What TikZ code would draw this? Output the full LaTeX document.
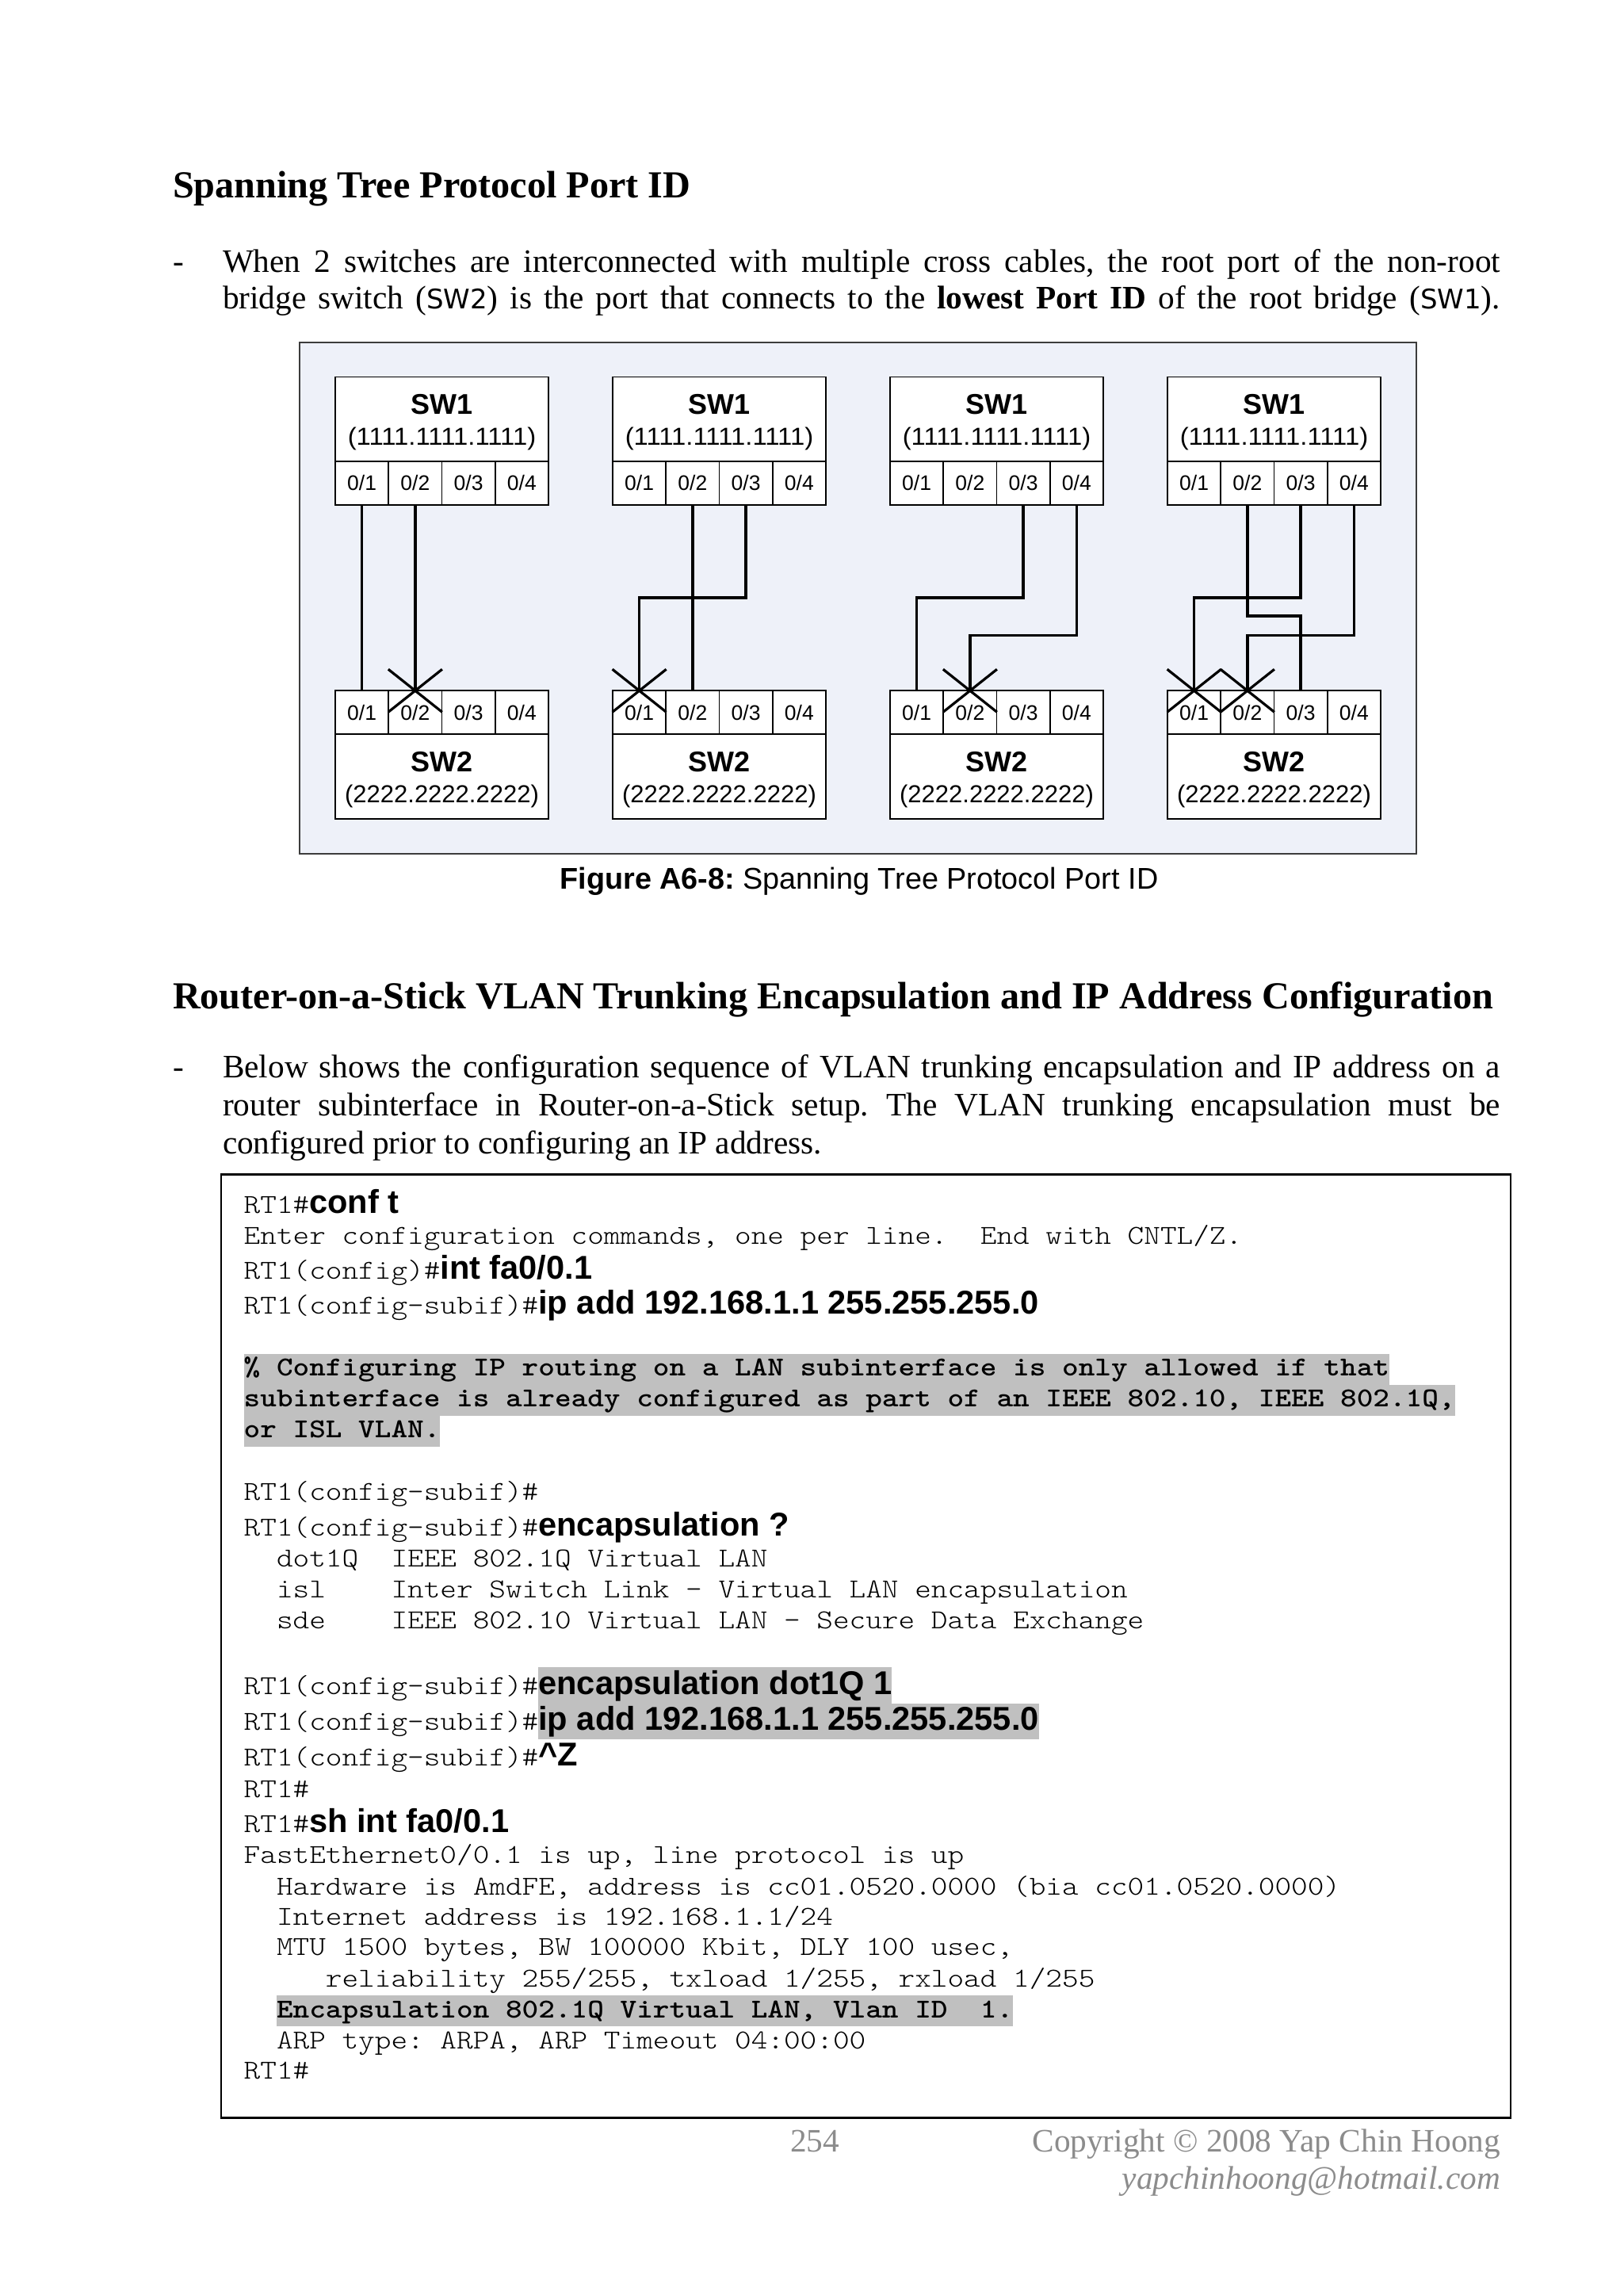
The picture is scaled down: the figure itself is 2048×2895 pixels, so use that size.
\documentclass[tikz,border=0pt]{standalone}
\usepackage{fontspec}
\setmainfont{Liberation Serif}
\newfontfamily\arialf{Liberation Sans}
\newfontfamily\courf[FakeStretch=1.14]{Latin Modern Mono Light}
\newfontfamily\dejaf{DejaVu Sans}
\definecolor{framebg}{RGB}{238,241,249}
\definecolor{framedraw}{RGB}{60,60,60}
\definecolor{hlgray}{RGB}{192,192,192}
\definecolor{footgray}{RGB}{140,140,140}
\newcommand\fsz[2]{\fontsize{#1pt}{#2pt}\selectfont}
\newcommand\mymono{\courf\fsz{34.5}{39}}
\newcommand\mycmd[1]{{\arialf\bfseries\fsz{41.6}{45}#1}}
\newcommand\myhl[3]{{\setlength\fboxsep{0pt}\colorbox{hlgray}{\rule[-#2pt]{0pt}{#3pt}#1}}}
\newcommand\mypr{RT1(config-subif)\#}
\newcommand\swname[1]{{\dejaf\fsz{34}{40}#1}}
\begin{document}
\frenchspacing
\begin{tikzpicture}[x=1pt,y=-1pt,
  every node/.style={inner sep=0pt, outer sep=0pt},
  bodyline/.style={anchor=base west, font=\fsz{41.3}{47.5}},
  headline/.style={anchor=base west, font=\bfseries\fsz{48.2}{55}},
  codeline/.style={anchor=base west, font=\mymono},
  swbox/.style={draw, fill=white, line width=1.8pt, minimum width=269pt, minimum height=106.5pt},
  portcell/.style={draw, fill=white, line width=1.8pt, minimum width=67.25pt, minimum height=55pt,
     text height=18.6pt, text depth=0pt, font=\arialf\fsz{26.5}{30}},
  swtitle/.style={anchor=base, font=\arialf\bfseries\fsz{36}{40}},
  swaddr/.style={anchor=base, font=\arialf\fsz{31}{34}},
  cable/.style={line width=3.7pt},
  blockx/.style={line width=3.2pt},
  footer/.style={font=\fsz{41.3}{47}, text=footgray}]

\fill[white] (0,0) rectangle (2048,2895);
\useasboundingbox (0,0) rectangle (2048,2895);

% ---------- headings and text ----------
\node[headline] (h1) at (218,250) {Spanning Tree Protocol Port ID};
\node[bodyline] (b1dash) at (218,343.5) {-};
\node[bodyline] (b1l1) at (281,343.5) {\makebox[1612pt][s]{When 2 switches are interconnected with multiple cross cables, the root port of the non-root}};
\node[bodyline] (b1l2) at (281,389.6) {\makebox[1612pt][s]{bridge switch (\swname{SW2}) is the port that connects to the \textbf{lowest Port ID} of the root bridge (\swname{SW1}).}};

% ---------- figure frame ----------
\node[draw=framedraw, fill=framebg, line width=2pt, minimum width=1409pt, minimum height=645pt] (frame) at (1082.5,754.5) {};

\foreach \i in {1,...,4}{
  \pgfmathsetmacro\L{423+350*(\i-1)}
  \node[swbox] (a\i) at (\L+134.5,528.75) {};
  \node[swtitle] (a\i t) at (\L+134.5,522) {SW1};
  \node[swaddr] (a\i a) at (\L+134.5,561) {\scalebox{1.06}[1]{(1111.1111.1111)}};
  \node[swbox] (z\i) at (\L+134.5,979.75) {};
  \node[swtitle] (z\i t) at (\L+134.5,973) {SW2};
  \node[swaddr] (z\i a) at (\L+134.5,1012) {(2222.2222.2222)};
  \foreach \k in {1,...,4}{
    \node[portcell] (t\i\k) at (\L+33.625+67.25*\k-67.25,609.5) {0/\k};
    \node[portcell] (b\i\k) at (\L+33.625+67.25*\k-67.25,898.75) {0/\k};
  }
}

\coordinate (ya) at (0,754);
\coordinate (yb) at (0,777);
\coordinate (yc) at (0,801.6);

% column 1
\draw[cable] (t11.south) -- (b11.north);
\draw[cable] (t12.south) -- (b12.north);
% column 2
\draw[cable] (t22.south) -- (b22.north);
\draw[cable] (t23.south) -- (t23.south |- ya) -| (b21.north);
% column 3
\draw[cable] (t33.south) -- (t33.south |- ya) -| (b31.north);
\draw[cable] (t34.south) -- (t34.south |- yc) -| (b32.north);
% column 4
\draw[cable] (t42.south) -- (t42.south |- yb) -| (b43.north);
\draw[cable] (t43.south) -- (t43.south |- ya) -| (b41.north);
\draw[cable] (t44.south) -- (t44.south |- yc) -| (b42.north);

% blocked ports
\foreach \p in {b12,b21,b32,b41,b42}{
  \draw[blockx] ([shift={(-34,-27)}]\p.north) -- ([shift={(34,27)}]\p.north);
  \draw[blockx] ([shift={(34,-27)}]\p.north) -- ([shift={(-34,27)}]\p.north);
}

\node[anchor=base, font=\arialf\fsz{37.8}{44}] (cap) at (1084,1121.5) {\textbf{Figure A6-8:} Spanning Tree Protocol Port ID};

% ---------- second section ----------
\node[headline] (h2) at (218,1272) {Router-on-a-Stick VLAN Trunking Encapsulation and IP Address Configuration};
\node[bodyline] (b2dash) at (218,1359.5) {-};
\node[bodyline] (b2l1) at (281,1359.5) {\makebox[1612pt][s]{Below shows the configuration sequence of VLAN trunking encapsulation and IP address on a}};
\node[bodyline] (b2l2) at (281,1407.5) {\makebox[1612pt][s]{router subinterface in Router-on-a-Stick setup. The VLAN trunking encapsulation must be}};
\node[bodyline] (b2l3) at (281,1455.5) {configured prior to configuring an IP address.};

% ---------- code box ----------
\node[draw, line width=2.5pt, minimum width=1627pt, minimum height=1190pt] (codebox) at (1092.5,2076.7) {};

\node[codeline] (c1) at (307.7,1530.5) {RT1\#\mycmd{conf t}};
\node[codeline] (c2) at (307.7,1569.5) {Enter configuration commands, one per line.~ End with CNTL/Z.};
\node[codeline] (c3) at (307.7,1613.3) {RT1(config)\#\mycmd{int fa0/0.1}};
\node[codeline] (c4) at (307.7,1657.7) {\mypr\mycmd{ip add 192.168.1.1 255.255.255.0}};
\node[codeline] (c5) at (307.7,1735) {\myhl{\textbf{\% Configuring IP routing on a LAN subinterface is only allowed if that}}{12}{39}};
\node[codeline] (c6) at (307.7,1774) {\myhl{\textbf{subinterface is already configured as part of an IEEE 802.10, IEEE 802.1Q,}}{12}{39}};
\node[codeline] (c7) at (307.7,1813.3) {\myhl{\textbf{or ISL VLAN.}}{12}{39}};
\node[codeline] (c8) at (307.7,1892) {\mypr};
\node[codeline] (c9) at (307.7,1937.7) {\mypr\mycmd{encapsulation ?}};
\node[codeline] (c10) at (307.7,1976.7) {~~dot1Q~~IEEE 802.1Q Virtual LAN};
\node[codeline] (c11) at (307.7,2015) {~~isl~~~~Inter Switch Link - Virtual LAN encapsulation};
\node[codeline] (c12) at (307.7,2054) {~~sde~~~~IEEE 802.10 Virtual LAN - Secure Data Exchange};
\node[codeline] (c13) at (307.7,2137.3) {\mypr\myhl{\mycmd{encapsulation dot1Q 1}}{11.4}{45.4}};
\node[codeline] (c14) at (307.7,2182.7) {\mypr\myhl{\mycmd{ip add 192.168.1.1 255.255.255.0}}{11.4}{45.4}};
\node[codeline] (c15) at (307.7,2227.7) {\mypr\mycmd{\textasciicircum Z}};
\node[codeline] (c16) at (307.7,2267.7) {RT1\#};
\node[codeline] (c17) at (307.7,2311.7) {RT1\#\mycmd{sh int fa0/0.1}};
\node[codeline] (c18) at (307.7,2350.7) {FastEthernet0/0.1 is up, line protocol is up};
\node[codeline] (c19) at (307.7,2390) {~~Hardware is AmdFE, address is cc01.0520.0000 (bia cc01.0520.0000)};
\node[codeline] (c20) at (307.7,2428.3) {~~Internet address is 192.168.1.1/24};
\node[codeline] (c21) at (307.7,2466.7) {~~MTU 1500 bytes, BW 100000 Kbit, DLY 100 usec,};
\node[codeline] (c22) at (307.7,2506) {~~~~~reliability 255/255, txload 1/255, rxload 1/255};
\node[codeline] (c23) at (307.7,2545) {~~\myhl{\textbf{Encapsulation 802.1Q Virtual LAN, Vlan ID~~1.}}{11}{39}};
\node[codeline] (c24) at (307.7,2584) {~~ARP type: ARPA, ARP Timeout 04:00:00};
\node[codeline] (c25) at (307.7,2622.7) {RT1\#};

% ---------- footer ----------
\node[footer, anchor=base] (pg) at (1028,2714) {254};
\node[footer, anchor=base east] (copy) at (1893,2714) {Copyright \textcopyright{} 2008 Yap Chin Hoong};
\node[footer, anchor=base east] (mail) at (1893,2761) {\itshape yapchinhoong@hotmail.com};
\end{tikzpicture}
\end{document}
